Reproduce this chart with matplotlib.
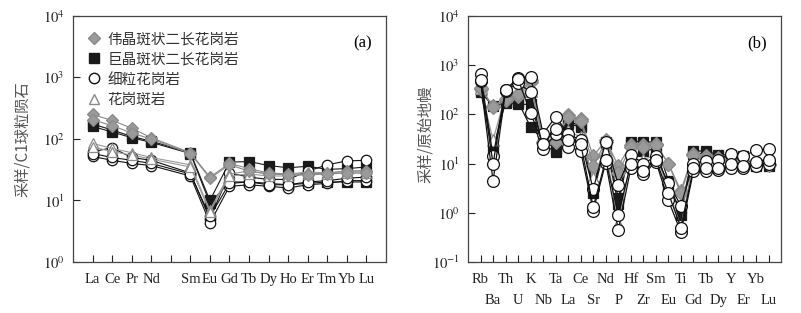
import numpy as np
import matplotlib.pyplot as plt
from matplotlib.lines import Line2D

plt.rcParams['font.family'] = ['Liberation Serif', 'Noto Sans CJK SC']
plt.rcParams['mathtext.fontset'] = 'stix'

# ---- panel (a): chondrite-normalised REE ----
ree_axis = ['La', 'Ce', 'Pr', 'Nd', 'Pm', 'Sm', 'Eu', 'Gd', 'Tb', 'Dy', 'Ho', 'Er', 'Tm', 'Yb', 'Lu']
ree_used = ['La', 'Ce', 'Pr', 'Nd', 'Sm', 'Eu', 'Gd', 'Tb', 'Dy', 'Ho', 'Er', 'Tm', 'Yb', 'Lu']

ree_diamond = [
    [250, 200, 150, 105, 60, 24, 40, 33, 28, 27, 27, 28, 30, 30],
    [205, 165, 125, 100, 58, 23, 38, 30, 27, 26, 26, 27, 28, 28],
]
ree_square = [
    [175, 140, 110, 92, 60, 10, 42, 43, 37, 34, 36, 32, 33, 35],
    [160, 130, 105, 88, 58, 9, 20, 20, 19, 18, 19, 20, 20, 20],
]
ree_circle = [
    [62, 72, 50, 45, 28, 5.0, 28, 24, 22, 22, 30, 38, 44, 45],
    [52, 45, 40, 37, 25, 4.3, 17, 18, 17, 16, 18, 19, 21, 21],
    [58, 50, 45, 40, 27, 5.5, 19, 20, 18, 18, 20, 21, 23, 24],
]
ree_triangle = [
    [85, 70, 60, 50, 38, 7.0, 27, 30, 27, 27, 29, 28, 30, 31],
    [75, 62, 55, 47, 35, 6.5, 25, 27, 25, 25, 27, 27, 28, 28],
]

# ---- panel (b): primitive-mantle-normalised spider ----
spider_elems = ['Rb', 'Ba', 'Th', 'U', 'K', 'Nb', 'Ta', 'La', 'Ce', 'Sr', 'Nd', 'P',
                'Hf', 'Zr', 'Sm', 'Eu', 'Ti', 'Gd', 'Tb', 'Dy', 'Y', 'Er', 'Yb', 'Lu']

sp_square = [
    [280, 150, 170, 160, 160, 25, 17, 65, 55, 3.5, 28, 2.0, 28, 28, 27, 4.5, 0.9, 18, 18, 15, 15, 14, 9, 9],
    [300, 20, 180, 180, 55, 30, 20, 70, 60, 2.5, 25, 1.5, 25, 18, 20, 3.0, 1.2, 16, 16, 14, 13, 12, 10, 10],
]
sp_triangle = [
    [350, 30, 250, 300, 300, 35, 45, 45, 35, 5.0, 20, 0.6, 12, 12, 15, 3.0, 0.5, 12, 12, 11, 11, 11, 12, 12],
]
sp_diamond = [
    [330, 150, 200, 240, 450, 28, 30, 95, 80, 14, 30, 9.0, 24, 24, 25, 10, 2.8, 16, 14, 13, 11, 10, 10, 10],
    [350, 140, 210, 260, 500, 26, 28, 90, 75, 9, 28, 6.5, 22, 22, 24, 10, 2.5, 15, 13, 12, 11, 10, 10, 9.5],
]
sp_circle = [
    [660, 14, 320, 550, 580, 40, 90, 40, 30, 3.0, 28, 3.7, 15, 10, 14, 4.0, 1.4, 10, 11.5, 12, 16, 14, 19, 20],
    [470, 4.4, 300, 440, 280, 20, 40, 22, 18, 1.1, 10.5, 0.45, 8, 6, 11, 1.8, 0.4, 7, 7, 7.5, 8, 8, 9, 10],
    [500, 10, 310, 520, 105, 25, 50, 30, 25, 1.3, 12, 0.9, 10, 7, 12, 2.5, 0.5, 8, 8, 8, 10, 9, 11, 12],
]

legend_names = ['伟晶斑状二长花岗岩', '巨晶斑状二长花岗岩', '细粒花岗岩', '花岗斑岩']

styles = {
    'diamond': dict(marker='D', ms=6.2, mfc='#9a9a9a', mec='#8a8a8a', color='#8a8a8a'),
    'square': dict(marker='s', ms=7.0, mfc='#1a1a1a', mec='#1a1a1a', color='#1a1a1a'),
    'circle': dict(marker='o', ms=7.5, mfc='white', mec='#111111', color='#111111'),
    'triangle': dict(marker='^', ms=7.5, mfc='white', mec='#8a8a8a', color='#9a9a9a'),
}
# markers in (b) are drawn a little larger
big = {'diamond': 7.0, 'square': 7.8, 'circle': 8.5, 'triangle': 8.0}

fig = plt.figure(figsize=(8.01, 3.13), dpi=100)
ax1 = fig.add_axes([0.0911, 0.163, 0.3908, 0.786])
ax2 = fig.add_axes([0.5843, 0.163, 0.3908, 0.786])

x_ree = np.array([ree_axis.index(e) + 1 for e in ree_used])
for key, group in [('square', ree_square), ('circle', ree_circle),
                   ('triangle', ree_triangle), ('diamond', ree_diamond)]:
    for row in group:
        ax1.plot(x_ree, row, lw=0.8, mew=0.9, **styles[key])

x_sp = np.arange(1, len(spider_elems) + 1)
for key, group in [('square', sp_square), ('triangle', sp_triangle),
                   ('diamond', sp_diamond), ('circle', sp_circle)]:
    for row in group:
        st = dict(styles[key])
        st['ms'] = big[key]
        ax2.plot(x_sp, row, lw=0.9, mew=0.9, **st)

for ax in (ax1, ax2):
    ax.set_yscale('log')
    ax.minorticks_off()
    ax.tick_params(axis='both', which='both', direction='in', length=5, width=0.8,
                   labelsize=10.5, colors='#222222')
    ax.tick_params(axis='y', pad=6)
    for s in ax.spines.values():
        s.set_color('#444444')
        s.set_linewidth(0.9)

ax1.set_xlim(0, len(ree_axis) + 1)
ax1.set_ylim(1, 1e4)
ax1.set_xticks(np.arange(1, len(ree_axis) + 1))
ax1.set_xticklabels(['' if e == 'Pm' else e for e in ree_axis])
ax1.tick_params(axis='x', pad=8)
ax1.set_yticks([1, 10, 100, 1000, 10000])
ax1.set_yticklabels([r'$10^{%d}$' % i for i in range(0, 5)])
ax1.set_ylabel('采样/C1球粒陨石', family=['Noto Sans CJK SC'], fontsize=11,
               color='#555555')
ax1.yaxis.set_label_coords(-0.135, 0.5)
ax1.text(0.955, 0.89, '(a)', transform=ax1.transAxes, fontsize=12, ha='right', va='center')

handles = [Line2D([], [], ls='none', **styles[k]) for k in ['diamond', 'square', 'circle', 'triangle']]
leg = ax1.legend(handles, legend_names, loc='upper left', frameon=False,
                 prop={'family': ['Noto Sans CJK SC'], 'size': 10.5},
                 labelspacing=0.42, handletextpad=0.15, borderaxespad=0.3,
                 handlelength=1.5, bbox_to_anchor=(0.0, 0.975))
for t in leg.get_texts():
    t.set_color('#333333')

# odd elements on the first row (major ticks), even ones on the second row (minor ticks)
ax2.set_xlim(0, len(spider_elems) + 1)
ax2.set_ylim(0.1, 1e4)
ax2.set_xticks(x_sp[0::2])
ax2.set_xticklabels(spider_elems[0::2])
ax2.set_xticks(x_sp[1::2], minor=True)
ax2.set_xticklabels(spider_elems[1::2], minor=True)
ax2.tick_params(axis='x', which='major', pad=8)
ax2.tick_params(axis='x', which='minor', pad=23)
ax2.yaxis.set_minor_locator(plt.NullLocator())
ax2.set_yticks([0.1, 1, 10, 100, 1000, 10000])
ax2.set_yticklabels([r'$10^{%d}$' % i for i in range(-1, 5)])
ax2.set_ylabel('采样/原始地幔', family=['Noto Sans CJK SC'], fontsize=11,
               color='#555555')
ax2.yaxis.set_label_coords(-0.11, 0.52)
ax2.text(0.955, 0.89, '(b)', transform=ax2.transAxes, fontsize=12, ha='right', va='center')

fig.savefig('out.png', dpi=100)
